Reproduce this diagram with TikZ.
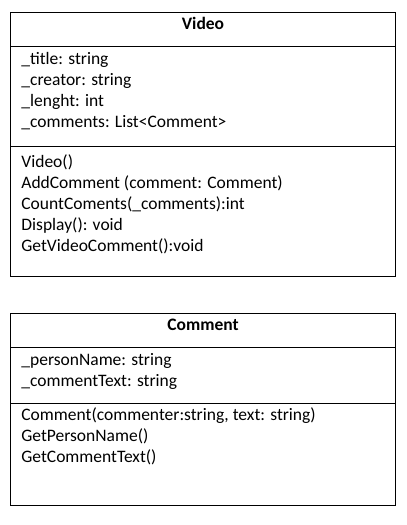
\documentclass[tikz,border=0pt]{standalone}
\usepackage{fontspec}
\setmainfont{Carlito}
\begin{document}
\begin{tikzpicture}[x=1pt, y=1pt, line width=0.8pt,
  part/.style={draw, anchor=north west, minimum width=385, inner sep=0pt},
  member/.style={anchor=base west, inner sep=0pt, font=\fontsize{17.5}{21}\selectfont},
  classname/.style={anchor=base, inner sep=0pt, font=\fontsize{17.5}{21}\selectfont\bfseries}]
\useasboundingbox (0,0) rectangle (407,-525);
% Video class
\node[part, minimum height=34] (vhead) at (10,-12){};
\node[part, minimum height=100] (vattr) at (10,-46){};
\node[part, minimum height=130] (vops) at (10,-146){};
\node[classname] (vname) at (203,-29){Video};
\node[member] (vtitle) at (21,-64){\_title: string};
\node[member] (vcreator) at (21,-85){\_creator: string};
\node[member] (vlength) at (21,-106){\_lenght: int};
\node[member] (vcomments) at (21,-127){\_comments: List<Comment>};
\node[member] (vctor) at (21,-167){Video()};
\node[member] (vadd) at (21,-188){AddComment (comment: Comment)};
\node[member] (vcount) at (21,-209){CountComents(\_comments):int};
\node[member] (vdisplay) at (21,-230){Display(): void};
\node[member] (vget) at (21,-251){GetVideoComment():void};
% Comment class
\node[part, minimum height=34] (chead) at (10,-313){};
\node[part, minimum height=56] (cattr) at (10,-347){};
\node[part, minimum height=102] (cops) at (10,-403){};
\node[classname] (cname) at (203,-330){Comment};
\node[member] (cperson) at (21,-365){\_personName: string};
\node[member] (ctext) at (21,-386){\_commentText: string};
\node[member] (cctor) at (21,-420){Comment(commenter:string, text: string)};
\node[member] (cgetname) at (21,-441){GetPersonName()};
\node[member] (cgettext) at (21,-462){GetCommentText()};
\end{tikzpicture}
\end{document}
